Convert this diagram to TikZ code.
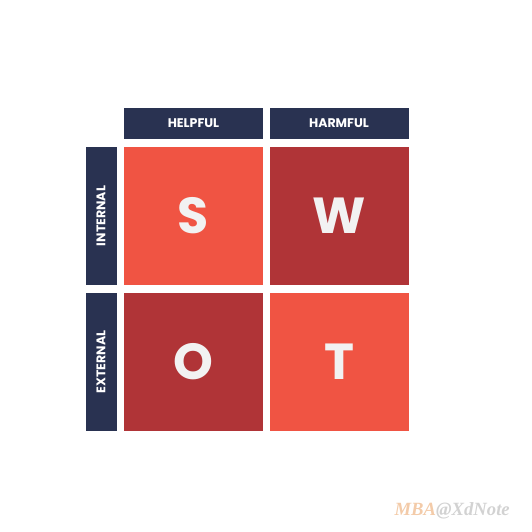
\documentclass[tikz,border=0pt]{standalone}
\usepackage{fontspec}
\setmainfont{Poppins}
\newfontfamily\markfont{Liberation Serif}
\usetikzlibrary{positioning}
\definecolor{navy}{HTML}{293251}
\definecolor{lightred}{HTML}{F05443}
\definecolor{darkred}{HTML}{B03437}
\definecolor{lettergray}{HTML}{F2F2F2}
\definecolor{markorange}{HTML}{F3CBA9}
\definecolor{markgray}{HTML}{D2D2D2}
\tikzset{
  head/.style={fill=navy, text=white, inner sep=0pt, minimum width=104.25pt, minimum height=23.25pt, font=\bfseries\fontsize{9.4}{10}\selectfont},
  side/.style={head, minimum width=103.5pt, minimum height=23.25pt, rotate=90},
  cell/.style={inner sep=0pt, minimum width=104.25pt, minimum height=103.5pt, text=lettergray, font=\bfseries\fontsize{38}{42}\selectfont}
}
\begin{document}
\begin{tikzpicture}[x=0.75pt, y=-0.75pt]
\useasboundingbox (0,0) rectangle (532,532);
   \node[head] (help) at (193.5,123.5) {HELPFUL};
    \node[head] (harm) at (339,123.5) {HARMFUL};
    \node[side] (int) at (101,216) {INTERNAL};
    \node[side] (ext) at (101,362) {EXTERNAL};
    \node[cell, fill=lightred] (s) at (193.5,216) {S};
    \node[cell, fill=darkred] (w) at (339,216) {W};
    \node[cell, fill=darkred] (o) at (193.5,362) {O};
    \node[cell, fill=lightred] (t) at (339,362) {T};
\node[anchor=east, inner sep=0pt, font=\markfont\bfseries\itshape\fontsize{14}{16}\selectfont] (mark) at (510,511)
  {\textcolor{markorange}{MBA}\textcolor{markgray}{@XdNote}};
    \end{tikzpicture}
\end{document}
